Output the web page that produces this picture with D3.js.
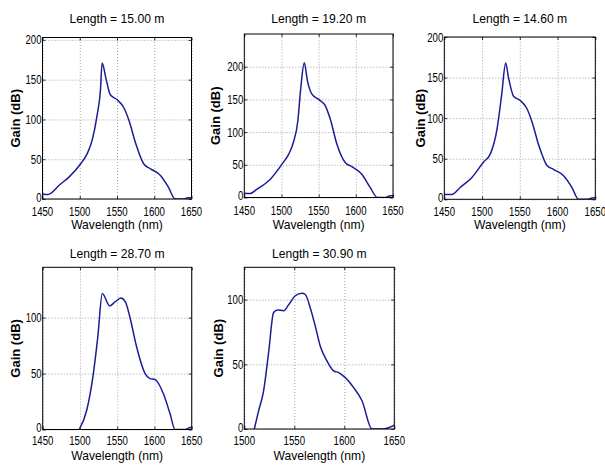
<!DOCTYPE html>
<html>
<head>
<meta charset="utf-8">
<script src="https://cdn.jsdelivr.net/npm/d3@7"></script>
<style>
  html, body { margin: 0; padding: 0; background: #fff; }
  svg { display: block; }
  text { font-family: "Liberation Sans", Arial, sans-serif; fill: #000; }
</style>
</head>
<body>
<svg id="chart" width="605" height="466"></svg>
<script>
// ---------------- data ----------------
const titles = ["Length = 15.00 m", "Length = 19.20 m", "Length = 14.60 m", "Length = 28.70 m", "Length = 30.90 m"];

const wl1 =   [1450, 1457, 1461, 1472, 1485.5, 1501, 1510, 1516.7, 1523, 1527.8, 1530, 1535.5, 1541, 1550, 1559, 1566, 1575, 1586, 1595, 1608, 1619, 1628, 1640, 1645, 1650];
const gain1 = [6.3, 5.5, 7, 17, 27.5, 44, 57, 74, 103.6, 137, 171, 150, 131, 125, 115, 99, 70, 44, 38, 30, 15, 0, 0, 1.5, 1.5];

const wl2 =   [1450, 1458, 1467, 1485, 1500.7, 1509.6, 1516, 1522, 1526, 1530.7, 1535, 1541, 1550, 1559, 1565.7, 1574.7, 1586, 1595, 1608, 1619.5, 1629, 1640, 1646, 1650];
const gain2 = [6.6, 6, 12.7, 28, 51, 66, 84, 117, 168, 206, 178, 158, 150, 140, 119.5, 81, 53, 47, 35.6, 15, 0, 0, 2.5, 2.5];

const wl3 =   [1450, 1460, 1471, 1486.6, 1502, 1511, 1520, 1526, 1531.3, 1535, 1541.7, 1550.6, 1559, 1566, 1575, 1586, 1595, 1608, 1619, 1627.8, 1640, 1647.6, 1650];
const gain3 = [6, 6, 14.6, 27, 46, 56, 87.5, 129, 168, 150, 127, 121.7, 112.5, 96, 67, 41.7, 36.7, 29, 14.6, 0, 0, 2, 2];

const wl4 =   [1499, 1509, 1518, 1524, 1530, 1540, 1547, 1555, 1561, 1567, 1576, 1587.5, 1594, 1601, 1612, 1621, 1627.7, 1640, 1647, 1650];
const gain4 = [0, 17, 50, 83, 121.5, 110.5, 114, 117.5, 114, 100.6, 74, 50, 45.5, 44.6, 32, 14, 0, 0, 1.5, 2];

const wl5 =   [1510, 1514.3, 1519.3, 1524.3, 1529.3, 1533.3, 1539.3, 1544.3, 1551, 1557.7, 1561, 1566, 1571, 1576, 1582.7, 1589.3, 1594.3, 1601, 1609.3, 1617.7, 1627.7, 1639, 1646, 1650];
const gain5 = [0, 14, 29.5, 59, 90, 92, 91.5, 96, 103, 105, 104, 93.6, 79.5, 64, 52.6, 45, 43.6, 39.7, 32, 21.8, 0, 0, 1.5, 3];

const xTicksA = [1450, 1500, 1550, 1600, 1650];
const xTicksB = [1500, 1550, 1600, 1650];
const yTicksA = [0, 50, 100, 150, 200];
const yTicksB = [0, 50, 100];

const xLabel = "Wavelength (nm)";
const yLabel = "Gain (dB)";

// ---------------- layout ----------------
const panels = [
  { title: titles[0], wl: wl1, gain: gain1, xDom: [1450, 1650], yDom: [0, 203], xT: xTicksA, yT: yTicksA,
    x0: 42.5, x1: 191.5, y0: 37.5, y1: 199, titleY: 23, tickY: 216, xlabY: 229, ylabX: 15 },
  { title: titles[1], wl: wl2, gain: gain2, xDom: [1450, 1650], yDom: [0, 250], xT: xTicksA, yT: yTicksA,
    x0: 244.3, x1: 393, y0: 34, y1: 197.5, titleY: 23, tickY: 215, xlabY: 229, ylabX: 215 },
  { title: titles[2], wl: wl3, gain: gain3, xDom: [1450, 1650], yDom: [0, 200], xT: xTicksA, yT: yTicksA,
    x0: 444.3, x1: 595.3, y0: 37, y1: 199.3, titleY: 23, tickY: 216, xlabY: 229, ylabX: 420 },
  { title: titles[3], wl: wl4, gain: gain4, xDom: [1450, 1650], yDom: [0, 145], xT: xTicksA, yT: yTicksB,
    x0: 42.7, x1: 191.7, y0: 267.3, y1: 429.5, titleY: 257.5, tickY: 445, xlabY: 459.5, ylabX: 15 },
  { title: titles[4], wl: wl5, gain: gain5, xDom: [1500, 1650], yDom: [0, 125], xT: xTicksB, yT: yTicksB,
    x0: 244.3, x1: 394.3, y0: 267.3, y1: 429, titleY: 257.5, tickY: 445, xlabY: 459.5, ylabX: 218 }
];

const svg = d3.select("#chart");
svg.append("rect").attr("width", 605).attr("height", 466).attr("fill", "#fff");

function label(g, x, y, str, size, sx, anchor, weight) {
  return g.append("text")
    .attr("transform", `translate(${x},${y}) scale(${sx},1)`)
    .attr("text-anchor", anchor || "middle")
    .style("font-size", size + "px")
    .style("font-weight", weight || "normal")
    .text(str);
}

panels.forEach((p, i) => {
  const g = svg.append("g");
  const x = d3.scaleLinear().domain(p.xDom).range([p.x0, p.x1]);
  const y = d3.scaleLinear().domain(p.yDom).range([p.y1, p.y0]);
  const w = p.x1 - p.x0, h = p.y1 - p.y0;

  // grid (dotted)
  g.append("g").attr("transform", `translate(0,${p.y1})`)
    .call(d3.axisBottom(x).tickValues(p.xT).tickSize(-h).tickFormat(""))
    .call(a => a.select(".domain").remove())
    .call(a => a.selectAll("line").attr("stroke", "#8c8c8c").attr("stroke-width", 0.8).attr("stroke-dasharray", "1,2"));
  g.append("g").attr("transform", `translate(${p.x0},0)`)
    .call(d3.axisLeft(y).tickValues(p.yT).tickSize(-w).tickFormat(""))
    .call(a => a.select(".domain").remove())
    .call(a => a.selectAll("line").attr("stroke", "#8c8c8c").attr("stroke-width", 0.8).attr("stroke-dasharray", "1,2"));

  // inside tick marks
  const tk = 3;
  [[d3.axisBottom(x).tickValues(p.xT), `translate(0,${p.y1})`],
   [d3.axisTop(x).tickValues(p.xT), `translate(0,${p.y0})`]].forEach(([ax, tr]) => {
    g.append("g").attr("transform", tr).call(ax.tickSize(-tk).tickFormat(""))
      .call(a => a.select(".domain").remove())
      .call(a => a.selectAll("line").attr("stroke", "#000").attr("stroke-width", 0.8));
  });
  [[d3.axisLeft(y).tickValues(p.yT), `translate(${p.x0},0)`],
   [d3.axisRight(y).tickValues(p.yT), `translate(${p.x1},0)`]].forEach(([ax, tr]) => {
    g.append("g").attr("transform", tr).call(ax.tickSize(-tk).tickFormat(""))
      .call(a => a.select(".domain").remove())
      .call(a => a.selectAll("line").attr("stroke", "#000").attr("stroke-width", 0.8));
  });

  // curve
  const cid = "clip" + i;
  svg.append("clipPath").attr("id", cid).append("rect")
    .attr("x", p.x0).attr("y", p.y0 - 1).attr("width", w).attr("height", h + 1);
  const data = p.wl.map((d, k) => [d, p.gain[k]]);
  g.append("path").datum(data)
    .attr("clip-path", `url(#${cid})`)
    .attr("fill", "none").attr("stroke", "#1c1c96").attr("stroke-width", 1.5)
    .attr("stroke-linejoin", "round")
    .attr("d", d3.line().x(d => x(d[0])).y(d => y(d[1])).curve(d3.curveMonotoneX));

  // box
  g.append("rect").attr("x", p.x0).attr("y", p.y0).attr("width", w).attr("height", h)
    .attr("fill", "none").attr("stroke", "#000").attr("stroke-width", 1);

  // tick labels
  p.xT.forEach(v => label(g, x(v), p.tickY, String(v), 13, 0.74, "middle"));
  p.yT.forEach(v => label(g, p.x0 - 1, y(v) + (v === 0 ? 2.5 : 4.5), String(v), 13, 0.74, "end"));

  // title & axis labels
  label(g, (p.x0 + p.x1) / 2, p.titleY, p.title, 13.5, 0.9, "middle");
  label(g, (p.x0 + p.x1) / 2, p.xlabY, xLabel, 12.5, 0.97, "middle");
  g.append("text")
    .attr("transform", `translate(${p.ylabX + 4.5},${(p.y0 + p.y1) / 2}) rotate(-90)`)
    .attr("text-anchor", "middle")
    .style("font-size", "13px").style("font-weight", "bold")
    .text(yLabel);
});
</script>
</body>
</html>
